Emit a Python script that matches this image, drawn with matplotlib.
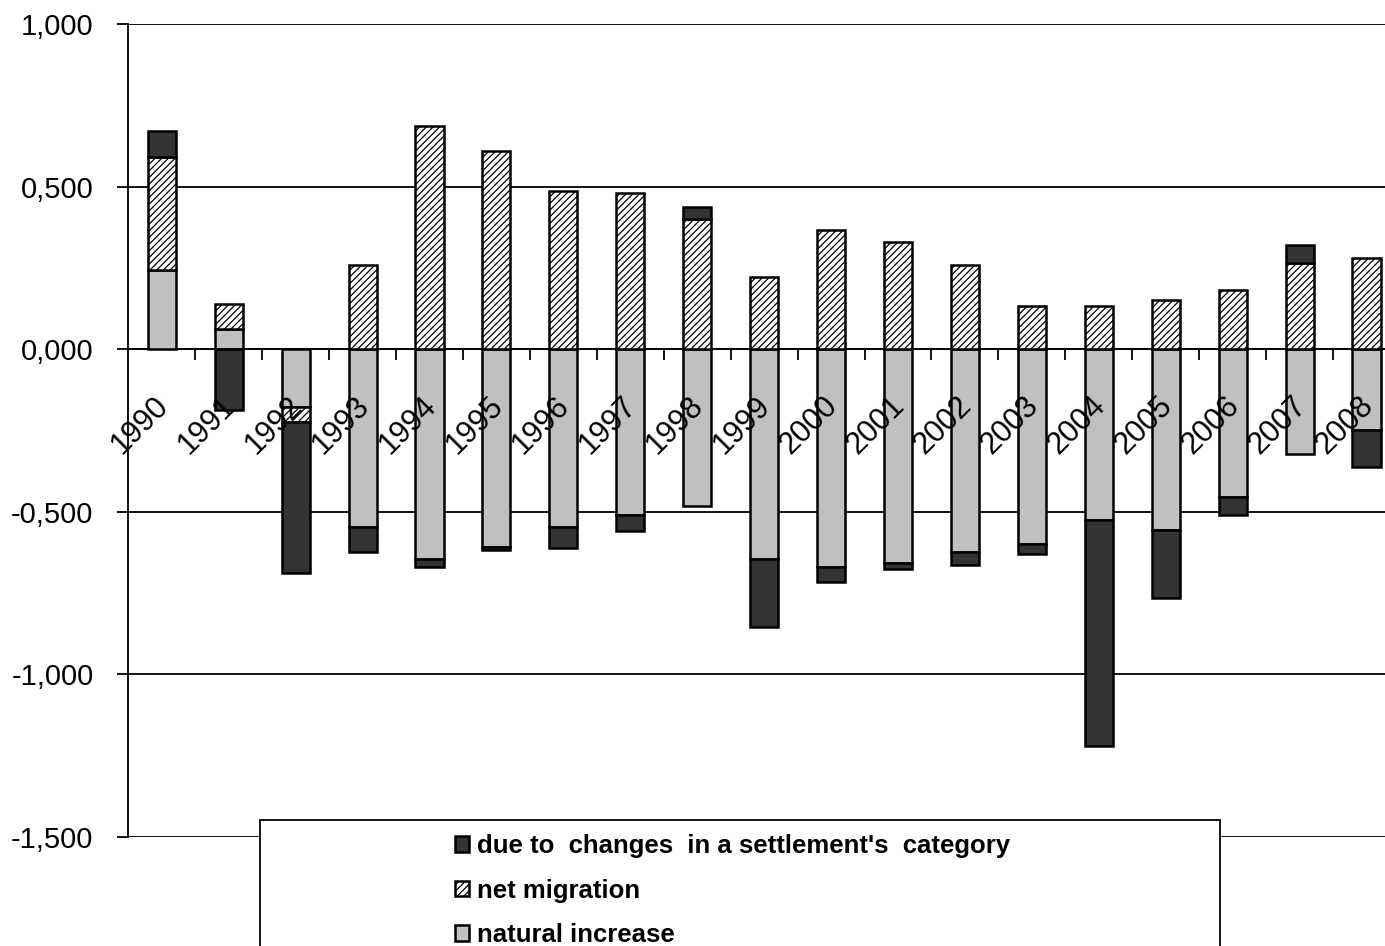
"""Population change components by year, stacked bars."""
import numpy as np
import matplotlib
matplotlib.use("Agg")
import matplotlib.pyplot as plt
from matplotlib.patches import Rectangle

years = [str(y) for y in range(1990, 2009)]
natural_increase = [0.245, 0.061, -0.179, -0.547, -0.644, -0.608, -0.547, -0.511, -0.481, -0.645,
                    -0.669, -0.658, -0.625, -0.600, -0.524, -0.556, -0.453, -0.323, -0.247]
net_migration = [0.345, 0.077, -0.046, 0.260, 0.687, 0.608, 0.488, 0.481, 0.399, 0.221,
                 0.367, 0.329, 0.260, 0.132, 0.132, 0.150, 0.183, 0.265, 0.280]
category_change = [0.080, -0.187, -0.462, -0.077, -0.026, -0.011, -0.064, -0.049, 0.038, -0.208,
                   -0.046, -0.019, -0.038, -0.031, -0.696, -0.208, -0.057, 0.056, -0.115]
y_ticks = [-1.5, -1.0, -0.5, 0.0, 0.5, 1.0]

plt.rcParams['font.family'] = ['Liberation Sans', 'DejaVu Sans']
plt.rcParams['hatch.linewidth'] = 0.9

fig = plt.figure(figsize=(13.85, 9.46), dpi=100)
ax = fig.add_axes([128.3 / 1385, 1 - 837 / 946, (1400 - 128.3) / 1385, (837 - 24) / 946])

x = np.arange(len(years))
pos_base = np.zeros(len(years))
neg_base = np.zeros(len(years))
series = [
    (natural_increase, 'natural increase', dict(color='#c0c0c0')),
    (net_migration, 'net migration', dict(color='white', hatch='/////')),
    (category_change, "due to  changes  in a settlement's  category", dict(color='#333333')),
]
handles = []
for values, label, style in series:
    v = np.array(values)
    bottom = np.where(v >= 0, pos_base, neg_base)
    bars = ax.bar(x, v, 0.42, bottom=bottom, edgecolor='black', linewidth=1.8,
                  label=label, zorder=3, **style)
    handles.append(bars)
    pos_base += np.where(v >= 0, v, 0)
    neg_base += np.where(v < 0, v, 0)

ax.set_xlim(-0.5, len(years) - 0.5)
ax.set_ylim(-1.5, 1.0)
ax.set_yticks(y_ticks)
ax.set_yticklabels([f"{t:.3f}".replace('.', ',') for t in y_ticks], fontsize=21)
ax.tick_params(axis='y', direction='out', length=8, width=1.3, pad=17)
ax.set_xticks([])
ax.yaxis.grid(True, color='black', linewidth=1.3)
ax.set_axisbelow(True)
for s in ['top', 'right', 'bottom']:
    ax.spines[s].set_visible(False)
ax.spines['left'].set_linewidth(1.3)

# category axis at zero with small ticks between categories
ax.axhline(0, color='black', linewidth=1.3, zorder=2)
ax.vlines(x[:-1] + 0.5, -0.034, 0, color='black', linewidth=1.3, zorder=2)
for i, yr in enumerate(years):
    ax.annotate(yr, xy=(i, 0), xytext=(2, -52), textcoords='offset pixels',
                rotation=45, rotation_mode='anchor', ha='right', va='center',
                fontsize=22, zorder=4)

# legend frame running off the bottom of the picture
fig.add_artist(Rectangle((260 / 1385, -0.05), (1220 - 260) / 1385, 0.05 + (946 - 820) / 946,
                         transform=fig.transFigure, facecolor='white', edgecolor='black',
                         linewidth=1.3, zorder=4))
fig.legend(handles=handles[::-1], loc='upper left', bbox_to_anchor=(455 / 1385, 1 - 834 / 946),
           frameon=False, borderpad=0, borderaxespad=0, handlelength=0.55, handleheight=0.55,
           handletextpad=0.3, labelspacing=0.8, prop=dict(size=18.5, weight='bold'))

fig.savefig('out.png', dpi=100)
